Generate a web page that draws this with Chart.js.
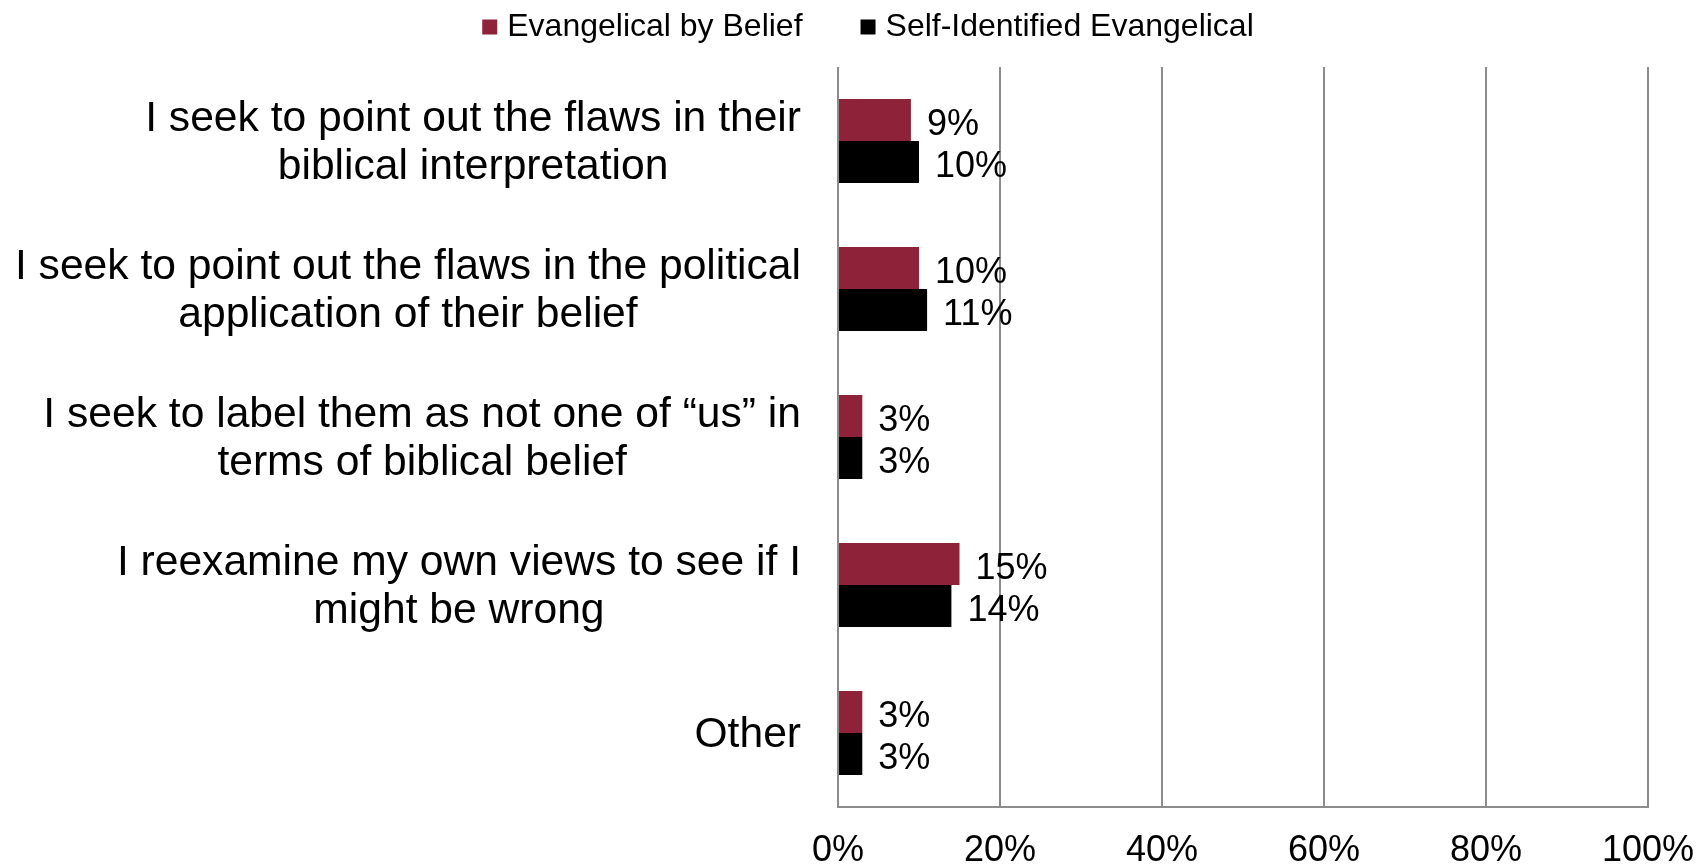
<!DOCTYPE html>
<html>
<head>
<meta charset="utf-8">
<script src="https://cdn.jsdelivr.net/npm/chart.js@4"></script>
<style>
  html, body { margin: 0; padding: 0; background: #fff; }
  #wrap { width: 1698px; height: 866px; }
</style>
</head>
<body>
<div id="wrap"><canvas id="chart"></canvas></div>
<script>
const categories = [
    ["I seek to point out the flaws in their", "biblical interpretation"],
    ["I seek to point out the flaws in the political", "application of their belief"],
    ["I seek to label them as not one of \u201cus\u201d in", "terms of biblical belief"],
    ["I reexamine my own views to see if I", "might be wrong"],
    ["Other"]
];
const seriesNames = ["Evangelical by Belief", "Self-Identified Evangelical"];
const byBelief = [9, 10, 3, 15, 3];
const selfIdentified = [10, 11, 3, 14, 3];
const seriesColors = ["#8E2238", "#000000"];
const xRange = { min: 0, max: 100, step: 20 };

const FONT = "'Liberation Sans', Arial, sans-serif";

// category text: each block right-aligned to the axis, lines centred inside the block
const categoryLabels = {
    id: "categoryLabels",
    afterDraw(chart) {
        const { ctx, chartArea } = chart;
        const yScale = chart.scales.y;
        const right = chartArea.left - 37;
        const lineHeight = 48;
        ctx.save();
        ctx.font = "42.6px " + FONT;
        ctx.fillStyle = "#000";
        ctx.textAlign = "center";
        ctx.textBaseline = "middle";
        categories.forEach((lines, i) => {
            const widest = Math.max(...lines.map(l => ctx.measureText(l).width));
            const cx = right - widest / 2;
            const cy = yScale.getPixelForValue(i) + 2;
            lines.forEach((line, j) => {
                ctx.fillText(line, cx, cy + (j - (lines.length - 1) / 2) * lineHeight);
            });
        });
        ctx.restore();
    }
};

// percentage printed just past the end of each bar
const valueLabels = {
    id: "valueLabels",
    afterDatasetsDraw(chart) {
        const { ctx } = chart;
        ctx.save();
        ctx.font = "36px " + FONT;
        ctx.fillStyle = "#000";
        ctx.textAlign = "left";
        ctx.textBaseline = "middle";
        chart.data.datasets.forEach((ds, di) => {
            chart.getDatasetMeta(di).data.forEach((bar, i) => {
                ctx.fillText(ds.data[i] + "%", bar.x + 16, bar.y + 5);
            });
        });
        ctx.restore();
    }
};

// small square swatches with tight text, items spread apart
const topLegend = {
    id: "topLegend",
    afterDraw(chart) {
        const { ctx } = chart;
        const box = 15, gap = 10, spacing = 58, cy = 27;
        ctx.save();
        ctx.font = "32px " + FONT;
        ctx.textAlign = "left";
        ctx.textBaseline = "middle";
        const items = chart.data.datasets.map(ds => ({
            text: ds.label,
            color: ds.backgroundColor,
            w: ctx.measureText(ds.label).width
        }));
        const total = items.reduce((s, it) => s + box + gap + it.w, 0) + spacing * (items.length - 1);
        let x = 868 - total / 2;
        items.forEach(it => {
            ctx.fillStyle = it.color;
            ctx.fillRect(x, cy - box / 2, box, box);
            ctx.fillStyle = "#000";
            ctx.fillText(it.text, x + box + gap, cy);
            x += box + gap + it.w + spacing;
        });
        ctx.restore();
    }
};

new Chart(document.getElementById("chart"), {
    type: "bar",
    data: {
        labels: categories,
        datasets: [
            { label: seriesNames[0], data: byBelief, backgroundColor: seriesColors[0] },
            { label: seriesNames[1], data: selfIdentified, backgroundColor: seriesColors[1] }
        ]
    },
    options: {
        indexAxis: "y",
        responsive: true,
        maintainAspectRatio: false,
        animation: false,
        datasets: { bar: { categoryPercentage: 0.568, barPercentage: 1 } },
        layout: { padding: { top: 67, left: 38 } },
        plugins: { legend: { display: false }, tooltip: { enabled: false } },
        scales: {
            x: {
                min: xRange.min,
                max: xRange.max,
                ticks: {
                    stepSize: xRange.step,
                    callback: v => v + "%",
                    font: { size: 36, family: FONT },
                    color: "#000",
                    padding: 22
                },
                grid: { color: "#8c8c8c", lineWidth: 2, drawTicks: false },
                border: { color: "#8c8c8c", width: 2 },
                afterFit(scale) {
                    scale.height = 59;
                    scale.paddingRight = 50;
                }
            },
            y: {
                ticks: { display: false },
                grid: { display: false },
                border: { display: false },
                afterFit(scale) {
                    scale.width = 800;
                }
            }
        }
    },
    plugins: [categoryLabels, valueLabels, topLegend]
});
</script>
</body>
</html>
